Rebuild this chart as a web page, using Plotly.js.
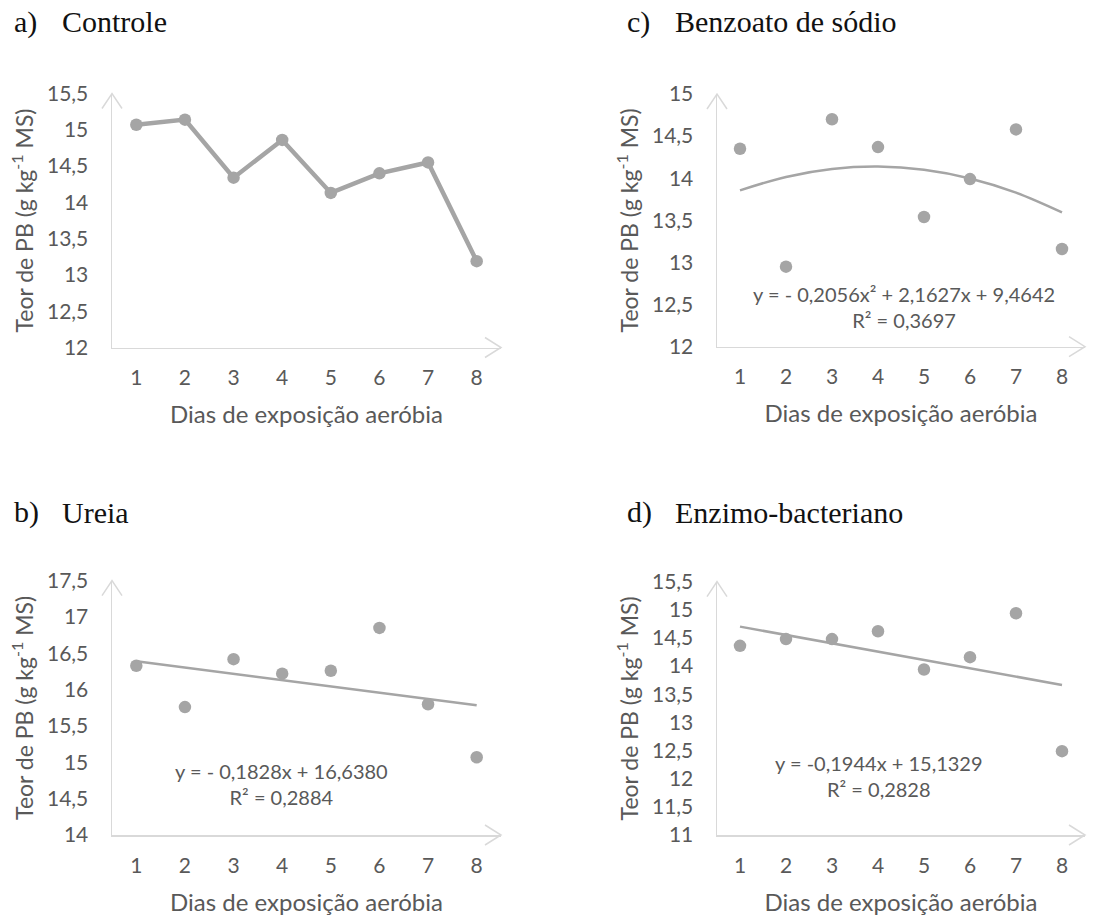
<!DOCTYPE html>
<html>
<head>
<meta charset="utf-8">
<script src="https://cdn.plot.ly/plotly-3.0.1.min.js"></script>
<style>html,body{margin:0;padding:0;background:#fff;}#chart{width:1113px;height:920px;}</style>
</head>
<body>
<div id="chart"></div>
<script>
// ---- data ----
const days = [1, 2, 3, 4, 5, 6, 7, 8];
const controle = [15.07, 15.14, 14.34, 14.86, 14.13, 14.40, 14.55, 13.19];
const benzoato = [14.35, 12.95, 14.70, 14.37, 13.54, 13.99, 14.58, 13.16];
const ureia    = [16.33, 15.76, 16.42, 16.22, 16.26, 16.85, 15.80, 15.07];
const enzimo   = [14.36, 14.48, 14.48, 14.62, 13.94, 14.16, 14.94, 12.49];

const ticksA = ['12', '12,5', '13', '13,5', '14', '14,5', '15', '15,5'];
const ticksC = ['12', '12,5', '13', '13,5', '14', '14,5', '15'];
const ticksB = ['14', '14,5', '15', '15,5', '16', '16,5', '17', '17,5'];
const ticksD = ['11', '11,5', '12', '12,5', '13', '13,5', '14', '14,5', '15', '15,5'];

const panelLetters = ['a)', 'c)', 'b)', 'd)'];
const panelNames = ['Controle', 'Benzoato de sódio', 'Ureia', 'Enzimo-bacteriano'];

const eqC = 'y = - 0,2056x² + 2,1627x + 9,4642';
const r2C = 'R² = 0,3697';
const eqB = 'y = - 0,1828x + 16,6380';
const r2B = 'R² = 0,2884';
const eqD = 'y = -0,1944x + 15,1329';
const r2D = 'R² = 0,2828';

const xTitle = 'Dias de exposição aeróbia';
const yTitle = 'Teor de PB (g kg<sup>-1</sup> MS)';

// ---- helpers ----
function polyfit(xs, ys, deg) {
  const n = deg + 1;
  const A = Array.from({length: n}, () => Array(n + 1).fill(0));
  xs.forEach((x, k) => {
    for (let i = 0; i < n; i++) {
      for (let j = 0; j < n; j++) A[i][j] += Math.pow(x, i + j);
      A[i][n] += ys[k] * Math.pow(x, i);
    }
  });
  for (let c = 0; c < n; c++) {
    let p = c;
    for (let r = c + 1; r < n; r++) if (Math.abs(A[r][c]) > Math.abs(A[p][c])) p = r;
    [A[c], A[p]] = [A[p], A[c]];
    for (let r = 0; r < n; r++) {
      if (r === c) continue;
      const f = A[r][c] / A[c][c];
      for (let k = c; k <= n; k++) A[r][k] -= f * A[c][k];
    }
  }
  return A.map((row, i) => row[n] / row[i]);
}
function evalPoly(coef, x) { return coef.reduce((s, c, i) => s + c * Math.pow(x, i), 0); }
const num = s => parseFloat(s.replace(',', '.'));

const GREY = '#a5a5a5';
const AXIS = '#d9d9d9';
const TXT = '#595959';
const FONT = 'Lato, "Open Sans", sans-serif';

function xAxis(domain, anchor) {
  return {
    domain: domain, anchor: anchor, range: [0.5, 8.5],
    tickvals: days, ticktext: days.map(String),
    showline: true, linecolor: AXIS, linewidth: 1.5,
    showgrid: false, zeroline: false, ticks: '', ticklabelstandoff: 11,
    tickfont: {family: FONT, size: 21, color: TXT},
    title: {text: xTitle, font: {family: FONT, size: 24, color: TXT}, standoff: 18},
    fixedrange: true
  };
}
function yAxis(domain, anchor, ticks) {
  const vals = ticks.map(num);
  return {
    domain: domain, anchor: anchor, range: [vals[0], vals[vals.length - 1]],
    tickvals: vals, ticktext: ticks,
    showline: true, linecolor: AXIS, linewidth: 1.5,
    showgrid: false, zeroline: false, ticks: '', ticklabelstandoff: 18,
    tickfont: {family: FONT, size: 21, color: TXT},
    title: {text: yTitle, font: {family: FONT, size: 23, color: TXT}, standoff: 7},
    fixedrange: true
  };
}
function arrowShapes(xa, ya) {
  return [
    {type: 'path', xref: xa + ' domain', yref: ya + ' domain', xsizemode: 'pixel', ysizemode: 'pixel',
     xanchor: 0, yanchor: 1,
     path: 'M -10,-15 L 0,0 L 10,-15', line: {color: AXIS, width: 1.5}},
    {type: 'path', xref: xa + ' domain', yref: ya + ' domain', xsizemode: 'pixel', ysizemode: 'pixel',
     xanchor: 1, yanchor: 0,
     path: 'M -16,10 L 0,0 L -16,-10', line: {color: AXIS, width: 1.5}}
  ];
}

const fitC = polyfit(days, benzoato, 2);
const fitB = polyfit(days, ureia, 1);
const fitD = polyfit(days, enzimo, 1);

const marker = {size: 12.5, color: GREY};
const traces = [
  {x: days, y: controle, xaxis: 'x', yaxis: 'y', mode: 'lines+markers',
   line: {color: GREY, width: 4.5}, marker: marker, cliponaxis: false},
  {x: days, y: days.map(d => evalPoly(fitC, d)), xaxis: 'x2', yaxis: 'y2', mode: 'lines',
   line: {color: GREY, width: 2.5, shape: 'spline'}},
  {x: days, y: benzoato, xaxis: 'x2', yaxis: 'y2', mode: 'markers', marker: marker, cliponaxis: false},
  {x: days, y: days.map(d => evalPoly(fitB, d)), xaxis: 'x3', yaxis: 'y3', mode: 'lines',
   line: {color: GREY, width: 2.5}},
  {x: days, y: ureia, xaxis: 'x3', yaxis: 'y3', mode: 'markers', marker: marker, cliponaxis: false},
  {x: days, y: days.map(d => evalPoly(fitD, d)), xaxis: 'x4', yaxis: 'y4', mode: 'lines',
   line: {color: GREY, width: 2.5}},
  {x: days, y: enzimo, xaxis: 'x4', yaxis: 'y4', mode: 'markers', marker: marker, cliponaxis: false}
];

const W = 1113, H = 920;
const dA = {x: [112 / W, 501 / W], y: [1 - 347.5 / H, 1 - 93.5 / H]};
const dC = {x: [717 / W, 1085 / W], y: [1 - 346.7 / H, 1 - 94 / H]};
const dB = {x: [112 / W, 501 / W], y: [1 - 835 / H, 1 - 580.7 / H]};
const dD = {x: [717 / W, 1085 / W], y: [1 - 835 / H, 1 - 581.7 / H]};

const titleFont = {family: '"Liberation Serif", "Times New Roman", serif', size: 30, color: '#111'};
const titlePos = [[12, 60, 22], [625, 673, 22], [12, 60, 512], [625, 673, 512]];
const annotations = [];
titlePos.forEach((p, i) => {
  annotations.push({xref: 'paper', yref: 'paper', x: p[0] / W, y: 1 - p[2] / H, xanchor: 'left', yanchor: 'middle',
    text: panelLetters[i], showarrow: false, font: titleFont});
  annotations.push({xref: 'paper', yref: 'paper', x: p[1] / W, y: 1 - p[2] / H, xanchor: 'left', yanchor: 'middle',
    text: panelNames[i], showarrow: false, font: titleFont});
});
const eqFont = {family: FONT, size: 20, color: TXT};
annotations.push({xref: 'x2', yref: 'y2', x: 4.57, y: 12.47, text: eqC + '<br>' + r2C, showarrow: false, font: eqFont, align: 'center'});
annotations.push({xref: 'x3', yref: 'y3', x: 3.99, y: 14.70, text: eqB + '<br>' + r2B, showarrow: false, font: eqFont, align: 'center'});
annotations.push({xref: 'x4', yref: 'y4', x: 4.02, y: 12.05, text: eqD + '<br>' + r2D, showarrow: false, font: eqFont, align: 'center'});

const layout = {
  width: W, height: H, margin: {l: 0, r: 0, t: 0, b: 0},
  paper_bgcolor: '#fff', plot_bgcolor: '#fff', showlegend: false,
  separators: ', ',
  xaxis: xAxis(dA.x, 'y'), yaxis: yAxis(dA.y, 'x', ticksA),
  xaxis2: xAxis(dC.x, 'y2'), yaxis2: yAxis(dC.y, 'x2', ticksC),
  xaxis3: xAxis(dB.x, 'y3'), yaxis3: yAxis(dB.y, 'x3', ticksB),
  xaxis4: xAxis(dD.x, 'y4'), yaxis4: yAxis(dD.y, 'x4', ticksD),
  shapes: [].concat(arrowShapes('x', 'y'), arrowShapes('x2', 'y2'),
                    arrowShapes('x3', 'y3'), arrowShapes('x4', 'y4')),
  annotations: annotations
};

Plotly.newPlot('chart', traces, layout, {displayModeBar: false, staticPlot: true});
</script>
</body>
</html>
